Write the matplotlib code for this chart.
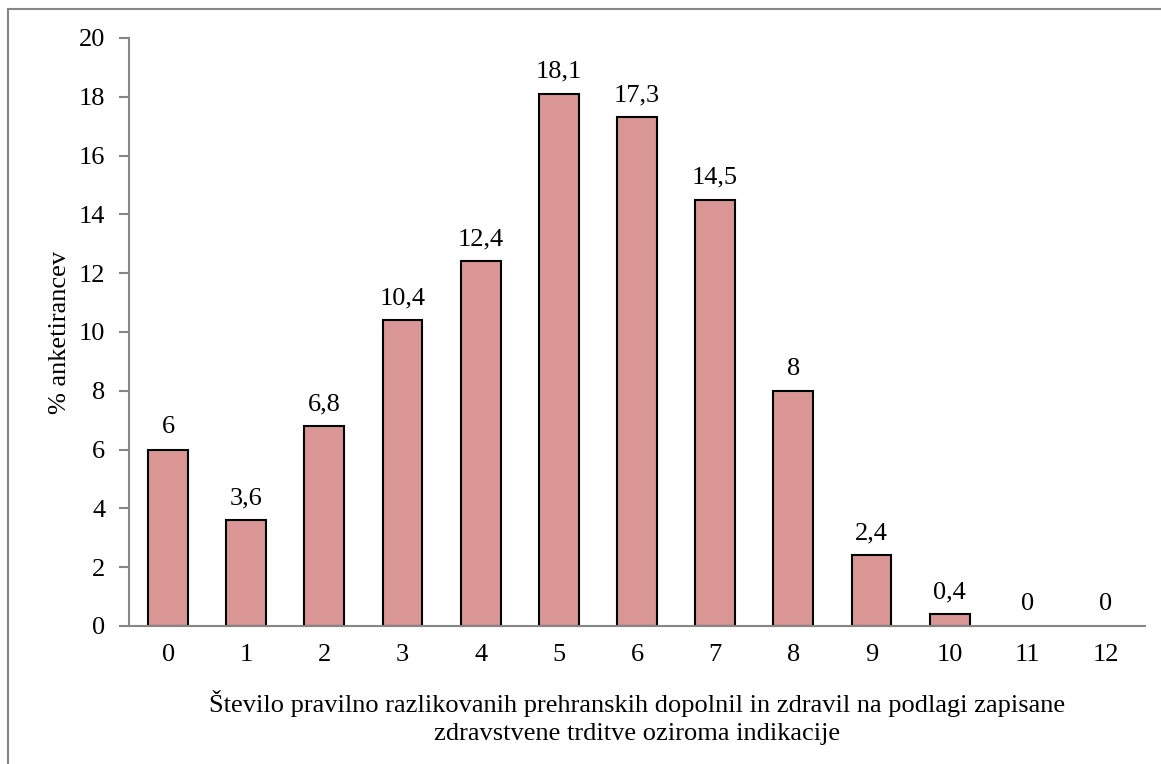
import matplotlib.pyplot as plt
from matplotlib.patches import Rectangle

# Data
categories = ['0', '1', '2', '3', '4', '5', '6', '7', '8', '9', '10', '11', '12']
percent = [6, 3.6, 6.8, 10.4, 12.4, 18.1, 17.3, 14.5, 8, 2.4, 0.4, 0, 0]
y_ticks = [0, 2, 4, 6, 8, 10, 12, 14, 16, 18, 20]

plt.rcParams['font.family'] = ['Liberation Serif', 'DejaVu Serif']
fs = 19

fig = plt.figure(figsize=(11.61, 7.64), dpi=100)
ax = fig.add_axes([129 / 1161, 1 - 626 / 764, 1016 / 1161, 588 / 764])

x = list(range(len(categories)))
edge_w = [1.5 if v > 0 else 0 for v in percent]
ax.bar(x, percent, width=0.51, color='#D99694', edgecolor='black', linewidth=edge_w, zorder=2)

# value labels, decimal comma
for xi, v in zip(x, percent):
    txt = ('%g' % v).replace('.', ',')
    ax.annotate(txt, (xi, v), xytext=(0, 8), textcoords='offset points',
                ha='center', va='bottom', fontsize=fs)

ax.set_xlim(-0.5, 12.5)
ax.set_ylim(0, 20)
ax.set_xticks(x)
ax.set_xticklabels(categories, fontsize=fs)
ax.set_yticks(y_ticks)
ax.set_yticklabels([str(t) for t in y_ticks], fontsize=fs)

ax.spines['top'].set_visible(False)
ax.spines['right'].set_visible(False)
for s in ['left', 'bottom']:
    ax.spines[s].set_color('#868686')
    ax.spines[s].set_linewidth(1.5)
ax.tick_params(axis='x', length=0, pad=13)
ax.tick_params(axis='y', length=7, color='#868686', width=1.5, pad=10)

ax.set_ylabel('% anketirancev', fontsize=fs, labelpad=6)
ax.set_xlabel('Število pravilno razlikovanih prehranskih dopolnil in zdravil na podlagi zapisane\n'
              'zdravstvene trditve oziroma indikacije', fontsize=fs, labelpad=17, linespacing=1.4)

# outer frame (partially visible)
fig.patches.append(Rectangle((8 / 1161, -0.1), 1.2, 1 - 9 / 764 + 0.1, transform=fig.transFigure,
                             fill=False, edgecolor='#868686', linewidth=1.5))

fig.savefig('out.png', dpi=100)
